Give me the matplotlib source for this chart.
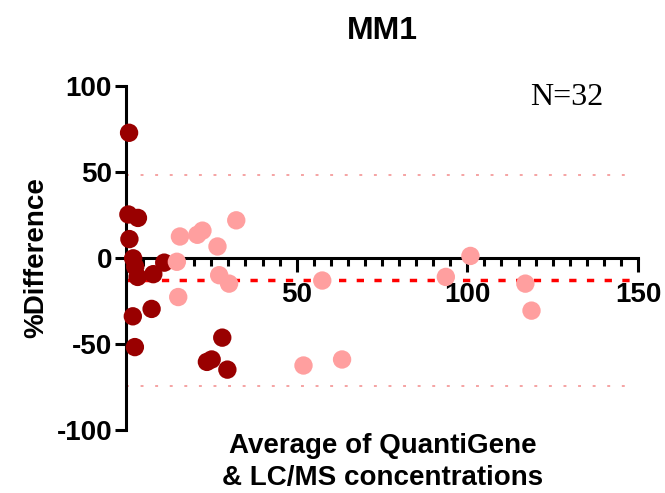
import matplotlib.pyplot as plt
import numpy as np

# MM1 Bland-Altman: average concentration vs % difference
dark_x = [0.9, 0.7, 3.5, 1.0, 2.1, 2.7, 3.4, 8.0, 11.2, 7.5, 2.0, 2.6, 28.2, 23.7, 25.1, 29.7]
dark_y = [72.8, 25.3, 23.3, 11.0, -0.2, -5.1, -11.0, -9.4, -2.7, -29.6, -33.9, -51.8, -46.3, -60.4, -59.0, -64.9]

light_x = [15.8, 20.9, 22.4, 32.3, 26.8, 14.9, 27.3, 30.2, 15.3, 52.0, 63.3, 57.5, 93.7, 100.9, 117.0, 118.8]
light_y = [12.5, 13.5, 15.9, 21.9, 6.7, -2.2, -10.0, -14.9, -22.7, -62.5, -59.0, -13.1, -11.0, 1.2, -14.9, -30.6]

bias = -13.0
upper_loa = 48.0
lower_loa = -74.5
line_end = 148

plt.rcParams['font.family'] = ['Liberation Sans', 'DejaVu Sans']
plt.rcParams['axes.unicode_minus'] = False

fig = plt.figure(figsize=(6.65, 4.93), dpi=100)
ax = fig.add_axes([126 / 665, 1 - 430 / 493, (638 - 126) / 665, (430 - 86) / 493])

ax.plot([0, line_end], [upper_loa, upper_loa], color='#f5a3a3', lw=1.4, ls=(0, (1.5, 6.0)), zorder=1)
ax.plot([0, line_end], [lower_loa, lower_loa], color='#f5a3a3', lw=1.4, ls=(0, (1.5, 6.0)), zorder=1)
ax.plot([0, line_end], [bias, bias], color='#ff0000', lw=2.5, ls=(0, (2.1, 3.0)), zorder=2)

ax.scatter(dark_x, dark_y, s=175, color='#990000', edgecolors='none', zorder=3, clip_on=False)
ax.scatter(light_x, light_y, s=175, color='#ff9f9f', edgecolors='none', zorder=4, clip_on=False)

ax.set_xlim(0, 150)
ax.set_ylim(-100, 100)

ax.spines['top'].set_visible(False)
ax.spines['right'].set_visible(False)
ax.spines['bottom'].set_position(('data', 0))
ax.spines['left'].set_linewidth(2.2)
ax.spines['bottom'].set_linewidth(2.2)

ax.set_xticks([50, 100, 150])
ax.set_xticks(np.arange(0, 151, 5), minor=True)
ax.set_yticks([-100, -50, 0, 50, 100])
ax.tick_params(axis='both', which='major', width=2.2, labelsize=20)
ax.tick_params(axis='x', which='major', length=10, pad=7)
ax.tick_params(axis='x', which='minor', length=5.5, width=2.2)
ax.tick_params(axis='y', which='major', length=8, pad=2)
for lab in ax.get_xticklabels() + ax.get_yticklabels():
    lab.set_fontweight('bold')

ax.set_title('MM1', fontsize=23, fontweight='bold', pad=34)
ax.set_ylabel('%Difference', fontsize=20, fontweight='bold', labelpad=5)

fig.text(383 / 665, 1 - 462 / 493, 'Average of QuantiGene\n& LC/MS concentrations',
         ha='center', va='center', fontsize=20, fontweight='bold', linespacing=1.28)
fig.text(567 / 665, 1 - 97 / 493, 'N=32', ha='center', va='center', fontsize=23,
         family=['Liberation Serif', 'DejaVu Serif'])

fig.savefig('out.png', dpi=100)
